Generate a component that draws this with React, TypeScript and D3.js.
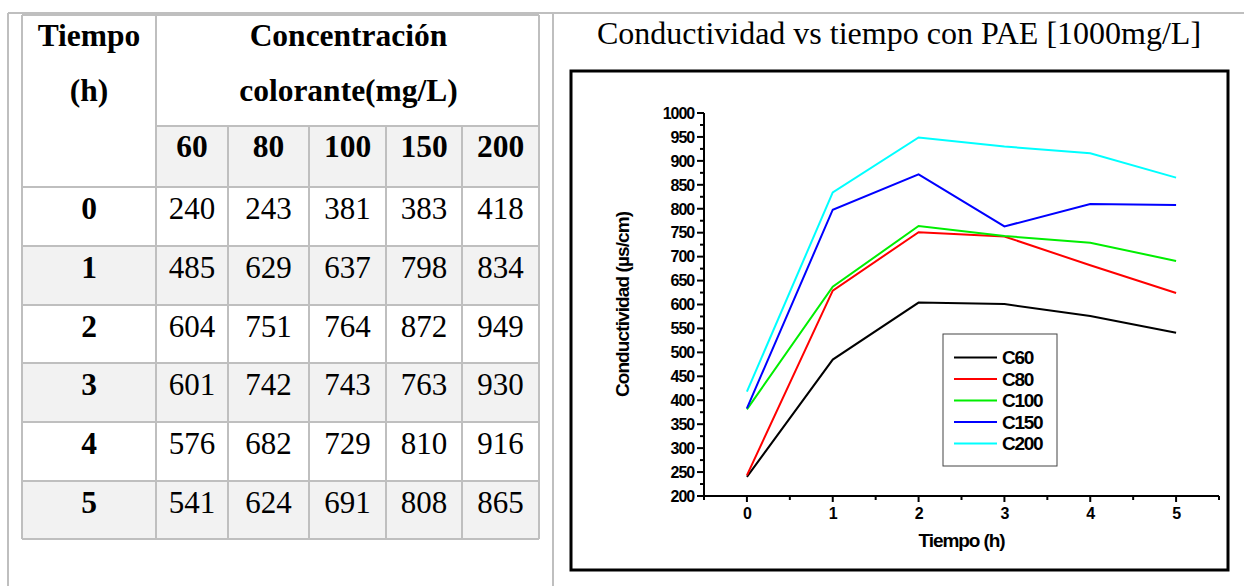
import React from "react";
import * as d3 from "d3";

const hours = [0, 1, 2, 3, 4, 5];
const concentrations = ["60", "80", "100", "150", "200"];
const c60 = [240, 485, 604, 601, 576, 541];
const c80 = [243, 629, 751, 742, 682, 624];
const c100 = [381, 637, 764, 743, 729, 691];
const c150 = [383, 798, 872, 763, 810, 808];
const c200 = [418, 834, 949, 930, 916, 865];
const seriesNames = ["C60", "C80", "C100", "C150", "C200"];
const seriesColors = ["#000000", "#ff0000", "#00ee00", "#0000ff", "#00ffff"];
const seriesValues = [c60, c80, c100, c150, c200];
const yTicks = d3.range(200, 1001, 50);
const yMinor = d3.range(225, 1000, 50);
const xTicks = [0, 1, 2, 3, 4, 5];
const xMinor = [-0.5, 0.5, 1.5, 2.5, 3.5, 4.5, 5.5];
const title = "Conductividad vs tiempo con PAE [1000mg/L]";

const SERIF = "'Liberation Serif', 'Times New Roman', serif";
const SANS = "'Liberation Sans', Arial, sans-serif";
const GRID = "#bfbfbf";

function Table() {
  const colX = [22, 156, 228, 309, 386, 462, 539];
  const rowY = [187, 246, 305, 363, 422, 481, 539];
  const cells: React.ReactNode[] = [];
  cells.push(<rect key="subbg" x={colX[1]} y={126} width={colX[6] - colX[1]} height={187 - 126} fill="#f2f2f2" />);
  hours.forEach((h, i) => {
    if (i % 2 === 1) {
      cells.push(
        <rect key={"bg" + i} x={colX[0]} y={rowY[i]} width={colX[6] - colX[0]} height={rowY[i + 1] - rowY[i]} fill="#f2f2f2" />
      );
    }
  });
  const hdr = { fontFamily: SERIF, fontWeight: "bold" as const, fontSize: 31.5, textAnchor: "middle" as const, fill: "#000" };
  cells.push(<text key="t1" x={89} y={46} {...hdr}>Tiempo</text>);
  cells.push(<text key="t2" x={89} y={101} {...hdr}>(h)</text>);
  cells.push(<text key="t3" x={(colX[1] + colX[6]) / 2 + 1} y={46} {...hdr}>Concentración</text>);
  cells.push(<text key="t4" x={(colX[1] + colX[6]) / 2 + 1} y={101} {...hdr}>colorante(mg/L)</text>);
  concentrations.forEach((c, j) => {
    cells.push(
      <text key={"c" + j} x={(colX[j + 1] + colX[j + 2]) / 2} y={157} {...hdr}>{c}</text>
    );
  });
  hours.forEach((h, i) => {
    cells.push(
      <text key={"h" + i} x={(colX[0] + colX[1]) / 2} y={rowY[i] + 32} {...hdr}>{h}</text>
    );
    seriesValues.forEach((s, j) => {
      cells.push(
        <text key={"v" + i + "-" + j} x={(colX[j + 1] + colX[j + 2]) / 2} y={rowY[i] + 32}
          fontFamily={SERIF} fontSize={31} textAnchor="middle" fill="#000">{s[i]}</text>
      );
    });
  });
  const ls = { stroke: GRID, strokeWidth: 2 };
  cells.push(<line key="l-top" x1={colX[0]} x2={colX[6]} y1={15} y2={15} {...ls} />);
  cells.push(<line key="l-sub" x1={colX[1]} x2={colX[6]} y1={126} y2={126} {...ls} />);
  rowY.forEach((y, i) => cells.push(<line key={"rl" + i} x1={colX[0]} x2={colX[6]} y1={y} y2={y} {...ls} />));
  cells.push(<line key="cl0" x1={colX[0]} x2={colX[0]} y1={15} y2={539} {...ls} />);
  cells.push(<line key="cl1" x1={colX[1]} x2={colX[1]} y1={15} y2={539} {...ls} />);
  cells.push(<line key="cl6" x1={colX[6]} x2={colX[6]} y1={15} y2={539} {...ls} />);
  [2, 3, 4, 5].forEach((k) => cells.push(<line key={"cl" + k} x1={colX[k]} x2={colX[k]} y1={126} y2={539} {...ls} />));
  return <g>{cells}</g>;
}

function Chart() {
  const x = d3.scaleLinear().domain([-0.5, 5.5]).range([704, 1219]);
  const y = d3.scaleLinear().domain([200, 1000]).range([496, 113]);
  const line = d3.line<number>().x((_, i) => x(hours[i])).y((d) => y(d));
  const axisFont = { fontFamily: SANS, fontWeight: "bold" as const, fontSize: 16, fill: "#000", letterSpacing: -1.1 };
  return (
    <g>
      <text x={899} y={44} fontFamily={SERIF} fontSize={32} textAnchor="middle" fill="#000">{title}</text>
      <rect x={571} y={71} width={657} height={499} fill="none" stroke="#000" strokeWidth={3} />
      {seriesValues.map((s, k) => (
        <path key={seriesNames[k]} d={line(s) || ""} fill="none" stroke={seriesColors[k]} strokeWidth={2} />
      ))}
      <line x1={x(-0.5)} x2={x(-0.5)} y1={y(1000)} y2={y(200)} stroke="#000" strokeWidth={2} />
      {yTicks.map((t) => (
        <g key={"yt" + t}>
          <line x1={x(-0.5) - 7} x2={x(-0.5)} y1={y(t)} y2={y(t)} stroke="#000" strokeWidth={2} />
          <text x={x(-0.5) - 10} y={y(t)} dy="0.36em" textAnchor="end" {...axisFont}>{t}</text>
        </g>
      ))}
      {yMinor.map((t) => (
        <line key={"ym" + t} x1={x(-0.5) - 4} x2={x(-0.5)} y1={y(t)} y2={y(t)} stroke="#000" strokeWidth={2} />
      ))}
      <line x1={x(-0.5)} x2={x(5.5)} y1={y(200)} y2={y(200)} stroke="#000" strokeWidth={2} />
      {xTicks.map((t) => (
        <g key={"xt" + t}>
          <line x1={x(t)} x2={x(t)} y1={y(200)} y2={y(200) + 6} stroke="#000" strokeWidth={2} />
          <text x={x(t)} y={519} textAnchor="middle" {...axisFont}>{t}</text>
        </g>
      ))}
      {xMinor.map((t) => (
        <line key={"xm" + t} x1={x(t)} x2={x(t)} y1={y(200)} y2={y(200) + 4} stroke="#000" strokeWidth={2} />
      ))}
      <text x={(x(-0.5) + x(5.5)) / 2} y={547} textAnchor="middle" fontFamily={SANS} fontWeight="bold" fontSize={19} letterSpacing={-1.1} fill="#000">Tiempo (h)</text>
      <text transform={`translate(629,${(y(200) + y(1000)) / 2}) rotate(-90)`} textAnchor="middle" fontFamily={SANS} fontWeight="bold" fontSize={19} letterSpacing={-0.9} fill="#000">Conductividad (µs/cm)</text>
      <rect x={943} y={334} width={114} height={132} fill="#fff" stroke="#444" strokeWidth={1} />
      {seriesNames.map((n, k) => (
        <g key={"lg" + n}>
          <line x1={954} x2={997} y1={357.5 + k * 21.5} y2={357.5 + k * 21.5} stroke={seriesColors[k]} strokeWidth={2} />
          <text x={1002} y={357.5 + k * 21.5} dy="0.36em" fontFamily={SANS} fontWeight="bold" fontSize={19} letterSpacing={-1.3} fill="#000">{n}</text>
        </g>
      ))}
    </g>
  );
}

export default function App() {
  return (
    <svg width={1244} height={586} style={{ position: "absolute", left: 0, top: 0, background: "#fff" }}>
      <rect x={0} y={0} width={1244} height={586} fill="#fff" />
      <line x1={8} x2={1244} y1={13} y2={13} stroke={GRID} strokeWidth={2} />
      <line x1={8} x2={8} y1={13} y2={586} stroke={GRID} strokeWidth={2} />
      <line x1={553} x2={553} y1={13} y2={586} stroke={GRID} strokeWidth={2} />
      <Table />
      <Chart />
    </svg>
  );
}
